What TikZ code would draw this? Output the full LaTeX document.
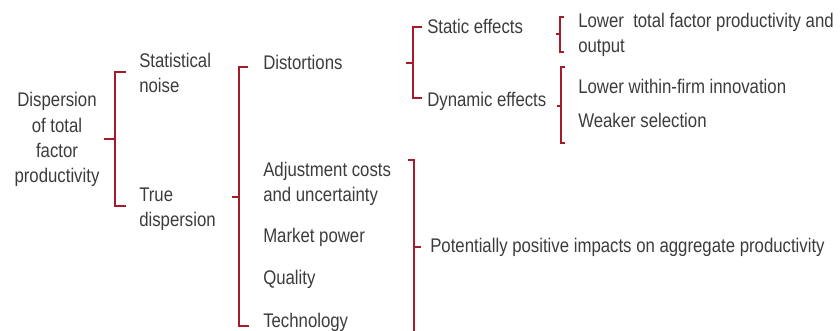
\documentclass[tikz,border=0pt]{standalone}
\usepackage{fontspec}
\setmainfont{Liberation Sans}[FakeStretch=0.85]
\definecolor{brkred}{RGB}{166,27,41}
\definecolor{txtgray}{RGB}{60,60,60}

\begin{document}
\begin{tikzpicture}[x=0.75pt,y=-0.75pt,
    lbl/.style={anchor=base west, inner sep=0pt, align=left, text=txtgray,
      font=\fontsize{14.8}{19}\selectfont},
    brk/.style={draw=brkred, line width=1.5pt}
    ]
    \useasboundingbox (0,0) rectangle (840,331);

    \node[lbl, anchor=base, align=center] (tfp)  at (57,183)  {Dispersion\\of total\\factor\\productivity};

    \node[lbl] (noise) at (139,93)  {Statistical\\noise};
    \node[lbl] (true)  at (139,227) {True\\dispersion};

    \node[lbl] (dist)  at (263,70)  {Distortions};
    \node[lbl] (adj)   at (263,202) {Adjustment costs\\and uncertainty};
    \node[lbl] (mkt)   at (263,243) {Market power};
    \node[lbl] (qual)  at (263,285) {Quality};
    \node[lbl] (tech)  at (263,328) {Technology};

    \node[lbl] (stat)  at (427,34)  {Static effects};
    \node[lbl] (dyn)   at (427,107) {Dynamic effects};

    \node[lbl] (ltfp)  at (578,53)  {Lower~ total factor productivity and\\output};
    \node[lbl] (innov) at (578,94)  {Lower within-firm innovation};
    \node[lbl] (sel)   at (578,128) {Weaker selection};

    \node[lbl] (pos)   at (430,253) {Potentially positive impacts on aggregate productivity};

    % brackets
    \draw[brk] (126,72) -- (115,72) -- (115,206) -- (126,206) (104,139) -- (115,139);
    \draw[brk] (248,67) -- (239,67) -- (239,326) -- (249,326) (232,197) -- (239,197);
    \draw[brk] (422,27) -- (413,27) -- (413,98) -- (422,98) (406,63) -- (413,63);
    \draw[brk] (564,17) -- (560,17) -- (560,52) -- (564,52) (556,34) -- (560,34);
    \draw[brk] (565,67) -- (561,67) -- (561,143) -- (565,143) (557,106) -- (561,106);
    \draw[brk] (408,160) -- (414,160) -- (414,336) -- (408,336) (414,247) -- (421,247);
  \end{tikzpicture}
\end{document}
